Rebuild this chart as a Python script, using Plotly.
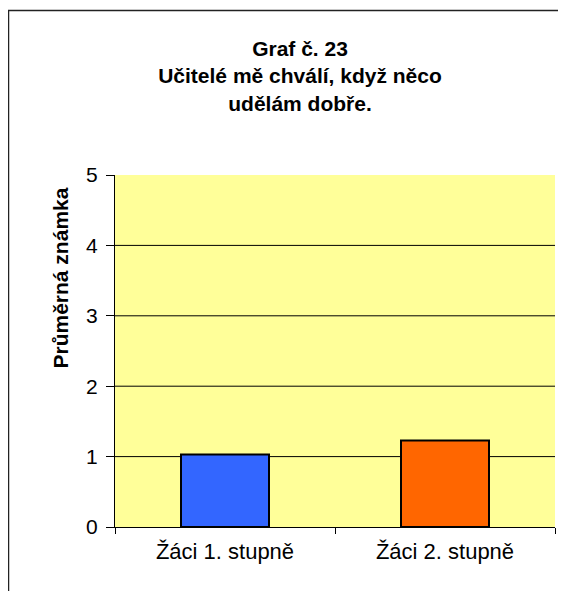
import plotly.graph_objects as go

categories = ["Žáci 1. stupně", "Žáci 2. stupně"]
values = [1.03, 1.23]
bar_colors = ["#3366FF", "#FF6600"]
y_ticks = [0, 1, 2, 3, 4, 5]
grid_values = [1, 2, 3, 4]
title_lines = ["Graf č. 23", "Učitelé mě chválí, když něco", "udělám dobře."]
y_title = "Průměrná známka"

FONT = "Liberation Sans, Arial, sans-serif"

W, H = 558, 583  # page body has an 8px offset

fig = go.Figure()
fig.add_trace(go.Bar(
    x=categories, y=values,
    marker=dict(color=bar_colors, line=dict(color="black", width=2)),
    width=0.4,
))

shapes = []
for g in grid_values:
    shapes.append(dict(type="line", xref="paper", yref="y", x0=0, x1=1, y0=g, y1=g,
                       line=dict(color="black", width=1), layer="below"))
# outer frame (extends beyond right and bottom edges)
shapes.append(dict(type="rect", xref="paper", yref="paper",
                   x0=(0.5 - 107) / 440, x1=1.3, y0=-0.6, y1=(519 - 2.5) / 352,
                   line=dict(color="#222222", width=1.5), layer="below"))

fig.update_layout(
    width=W, height=H,
    margin=dict(l=107, r=11, t=167, b=64, pad=0),
    paper_bgcolor="white",
    plot_bgcolor="#FFFF99",
    showlegend=False,
    font=dict(family=FONT, color="black", size=21),
    title=dict(text="<br>".join(title_lines), xref="container", yref="container",
               x=292 / W, xanchor="center", y=1 - 48 / H, yanchor="top",
               font=dict(family=FONT, size=21, color="black", weight="bold")),
    xaxis=dict(type="category", showline=True, linecolor="black", linewidth=1,
               ticks="outside", ticklen=6, tickcolor="black", tickson="boundaries",
               showgrid=False, tickfont=dict(size=22), ticklabelstandoff=5,
               fixedrange=True),
    yaxis=dict(range=[0, 5], tickvals=y_ticks, showline=True, linecolor="black", linewidth=1,
               ticks="outside", ticklen=8, tickcolor="black", showgrid=False,
               zeroline=False, tickfont=dict(size=21), ticklabelstandoff=4,
               fixedrange=True),
    shapes=shapes,
    bargap=0.6,
    annotations=[dict(text="<b>" + y_title + "</b>", xref="paper", yref="paper",
                      x=(52 - 107) / 440, y=(519 - 270.5) / 352,
                      xanchor="center", yanchor="middle",
                      textangle=-90, showarrow=False,
                      font=dict(family=FONT, size=21, color="black"))],
)

fig.write_html("out.html")
